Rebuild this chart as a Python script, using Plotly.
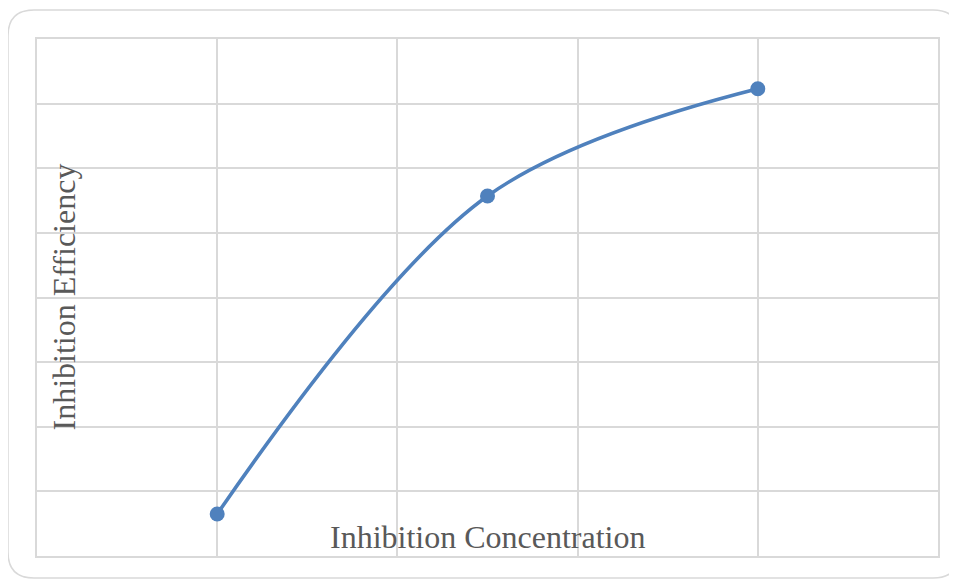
import plotly.graph_objects as go

concentration = [1, 2.5, 4]
efficiency = [0.65, 5.57, 7.23]
x_title = "Inhibition Concentration"
y_title = "Inhibition Efficiency"

# page has an 8px body margin; work in screen pixels and offset
OFF = 8
W, H = 957 - OFF, 581 - OFF
L, T, R, B = 37 - OFF, 39 - OFF, 938 - OFF, 556 - OFF
pw, ph = R - L, B - T

def px(x):
    return (x - OFF - L) / pw

def py(y):
    return (B - (y - OFF)) / ph

# rounded frame in screen pixel coords -> paper
fx0, fy0, fx1, fy1, r = 8, 10, 959, 578, 26
path = (
    f"M {px(fx0 + r)},{py(fy0)} L {px(fx1 - r)},{py(fy0)} "
    f"Q {px(fx1)},{py(fy0)} {px(fx1)},{py(fy0 + r)} "
    f"L {px(fx1)},{py(fy1 - r)} Q {px(fx1)},{py(fy1)} {px(fx1 - r)},{py(fy1)} "
    f"L {px(fx0 + r)},{py(fy1)} Q {px(fx0)},{py(fy1)} {px(fx0)},{py(fy1 - r)} "
    f"L {px(fx0)},{py(fy0 + r)} Q {px(fx0)},{py(fy0)} {px(fx0 + r)},{py(fy0)} Z"
)

fig = go.Figure()
fig.add_trace(go.Scatter(
    x=concentration, y=efficiency, mode="lines+markers",
    line=dict(color="#4f81bd", width=3.6, shape="spline", smoothing=1.0),
    marker=dict(color="#4f81bd", size=15),
    showlegend=False, hoverinfo="skip",
))

grid = "#d9d9d9"
fig.update_layout(
    width=W, height=H,
    margin=dict(l=L, r=W - R, t=T, b=H - B, pad=0),
    paper_bgcolor="white", plot_bgcolor="white",
    xaxis=dict(range=[0, 5], dtick=1, tick0=0, showgrid=True, gridcolor=grid, gridwidth=1.5,
               showticklabels=False, ticks="", zeroline=False, showline=True,
               linecolor=grid, linewidth=1.5, mirror=True, fixedrange=True),
    yaxis=dict(range=[0, 8], dtick=1, tick0=0, showgrid=True, gridcolor=grid, gridwidth=1.5,
               showticklabels=False, ticks="", zeroline=False, showline=True,
               linecolor=grid, linewidth=1.5, mirror=True, fixedrange=True),
    shapes=[dict(type="path", xref="paper", yref="paper", path=path,
                 line=dict(color="#d9d9d9", width=1.5), fillcolor="rgba(0,0,0,0)", layer="below")],
    annotations=[
        dict(text=x_title, xref="paper", yref="paper", x=0.5, y=py(537),
             showarrow=False, xanchor="center", yanchor="middle",
             font=dict(family="Liberation Serif", size=32, color="#595959")),
        dict(text=y_title, xref="paper", yref="paper", x=px(63), y=0.5, textangle=-90,
             showarrow=False, xanchor="center", yanchor="middle",
             font=dict(family="Liberation Serif", size=32, color="#595959")),
    ],
)

fig.write_html("out.html", config={"displayModeBar": False})
